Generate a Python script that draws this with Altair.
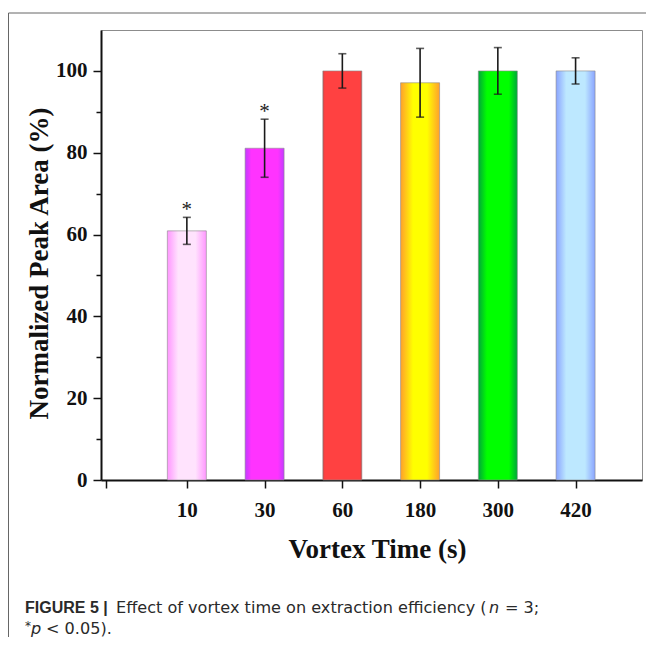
import altair as alt
import pandas as pd

# ---- data ----
categories = ["10", "30", "60", "180", "300", "420"]
means = [60.9, 81.1, 100.0, 97.1, 100.0, 100.0]
errors = [3.3, 7.1, 4.2, 8.4, 5.7, 3.2]
signif = ["*", "*", "", "", "", ""]

# ---- styles ----
edge_colors = ["#ff96ff", "#c23cff", "#c84444", "#ffa02c", "#00a63a", "#8aa4ff"]
center_colors = ["#ffe3fd", "#ff33ff", "#ff4141", "#ffff00", "#00ff00", "#bde8ff"]
edge_widths = [0.28, 0.16, 0.05, 0.32, 0.22, 0.26]

caption_bold = ["FIGURE 5 |"]
caption_main = ["Effect of vortex time on extraction efficiency ("]
caption_n = ["n"]
caption_end = ["= 3;"]
caption2_star = ["*"]
caption2_p = ["p"]
caption2_end = ["< 0.05)."]

W, H = 541, 450
SERIF = "Liberation Serif"
SANS = "DejaVu Sans"
CAPC = "#2a2a2a"
CAPSIZE = 16.1
CAP1_Y, CAP2_Y = 583, 604

df = pd.DataFrame({
    "idx": list(range(1, len(categories) + 1)),
    "cat": categories,
    "mean": means,
    "err": errors,
    "sig": signif,
})
df["lo"] = df["mean"] - df["err"]
df["hi"] = df["mean"] + df["err"]

xs = alt.Scale(domain=[-0.04, 6.79], nice=False, zero=False)
ys = alt.Scale(domain=[0, 110], nice=False)

label_array = "[" + ",".join(["''"] + ["'%s'" % c for c in categories]) + "]"

x_axis = alt.Axis(
    values=[-0.04] + list(range(1, len(categories) + 1)),
    labelExpr=label_array + "[round(datum.value) < 0 ? 0 : round(datum.value)]",
    tickSize=8, tickWidth=1.5, tickColor="#111",
    domainColor="#111", domainWidth=2,
    labelFont=SERIF, labelFontWeight="bold", labelFontSize=21, labelColor="#111",
    labelPadding=11, labelFlush=False, labelOverlap=False,
    title="Vortex Time (s)", titleFont=SERIF, titleFontWeight="bold",
    titleFontSize=27, titleColor="#111",
    titleX=276, titleY=77, titleBaseline="alphabetic", titleAnchor="middle",
    grid=False,
)
y_axis = alt.Axis(
    values=list(range(0, 101, 10)),
    labelExpr="datum.value % 20 === 0 ? datum.label : ''",
    tickSize={"condition": {"test": "datum.value % 20 !== 0", "value": 5}, "value": 8},
    tickWidth=1.5, tickColor="#111",
    domainColor="#111", domainWidth=2,
    labelFont=SERIF, labelFontWeight="bold", labelFontSize=21, labelColor="#111",
    labelPadding=6,
    title="Normalized Peak Area (%)", titleFont=SERIF, titleFontWeight="bold",
    titleFontSize=27, titleColor="#111",
    titleX=-54, titleY=233, titleBaseline="alphabetic", titleAngle=-90,
    grid=False,
)

X = alt.X("idx:Q", scale=xs, axis=x_axis)
base = alt.Chart(df)

layers = []
for i, cat in enumerate(categories):
    e, c, w = edge_colors[i], center_colors[i], edge_widths[i]
    grad = alt.LinearGradient(
        gradient="linear",
        stops=[
            alt.GradientStop(color=e, offset=0),
            alt.GradientStop(color=c, offset=w),
            alt.GradientStop(color=c, offset=1 - w),
            alt.GradientStop(color=e, offset=1),
        ],
        x1=0, x2=1, y1=0, y2=0,
    )
    bar = base.transform_filter(alt.datum.cat == cat).mark_bar(
        size=39, color=grad, stroke="#8a8a8a", strokeWidth=0.6
    ).encode(
        x=X,
        y=alt.Y("mean:Q", scale=ys, axis=y_axis),
        y2=alt.datum(0),
    )
    layers.append(bar)

err_rule = base.mark_rule(color="#1a1a1a", strokeWidth=1.6).encode(
    x=X,
    y=alt.Y("lo:Q", scale=ys, axis=y_axis),
    y2="hi:Q",
)
cap_hi = base.mark_tick(orient="horizontal", size=8, thickness=1.6, color="#1a1a1a").encode(
    x=X,
    y=alt.Y("hi:Q", scale=ys, axis=y_axis),
)
cap_lo = base.mark_tick(orient="horizontal", size=8, thickness=1.6, color="#1a1a1a").encode(
    x=X,
    y=alt.Y("lo:Q", scale=ys, axis=y_axis),
)
stars = base.mark_text(font=SERIF, fontSize=21, baseline="alphabetic", dy=-1, color="#222").encode(
    x=X,
    y=alt.Y("hi:Q", scale=ys, axis=y_axis),
    text="sig:N",
)
layers += [err_rule, cap_hi, cap_lo, stars]


def text_layer(values, x, y, **kw):
    d = pd.DataFrame({"t": values})
    return alt.Chart(d).mark_text(align="left", baseline="alphabetic", color=CAPC, **kw).encode(
        x=alt.value(x), y=alt.value(y), text="t:N"
    )


layers += [
    text_layer(caption_bold, -76, CAP1_Y, font="Liberation Sans", fontSize=16, fontWeight="bold"),
    text_layer(caption_main, 15, CAP1_Y, font=SANS, fontSize=CAPSIZE),
    text_layer(caption_n, 388, CAP1_Y, font=SANS, fontSize=CAPSIZE, fontStyle="italic"),
    text_layer(caption_end, 404, CAP1_Y, font=SANS, fontSize=CAPSIZE),
    text_layer(caption2_star, -76, CAP2_Y, font=SANS, fontSize=12, dy=-4),
    text_layer(caption2_p, -70, CAP2_Y, font=SANS, fontSize=CAPSIZE, fontStyle="italic"),
    text_layer(caption2_end, -55, CAP2_Y, font=SANS, fontSize=CAPSIZE),
]

frame_df = pd.DataFrame({"k": [0]})
frame_top = alt.Chart(frame_df).mark_rule(color="#666", strokeWidth=1).encode(
    x=alt.value(-92.5), x2=alt.value(W + 4), y=alt.value(-17), y2=alt.value(-17)
)
frame_left = alt.Chart(frame_df).mark_rule(color="#666", strokeWidth=1).encode(
    x=alt.value(-92.5), x2=alt.value(-92.5), y=alt.value(-17), y2=alt.value(H + 157)
)
layers += [frame_top, frame_left]

chart = alt.layer(*layers).properties(
    width=W, height=H,
    autosize=alt.AutoSizeParams(type="none"),
    padding={"left": 93, "top": 22, "right": 4, "bottom": 157},
    background="white",
).configure_view(stroke="#8c8c8c", strokeWidth=1)

chart.save("out.html", embed_options={"renderer": "svg", "actions": False})
